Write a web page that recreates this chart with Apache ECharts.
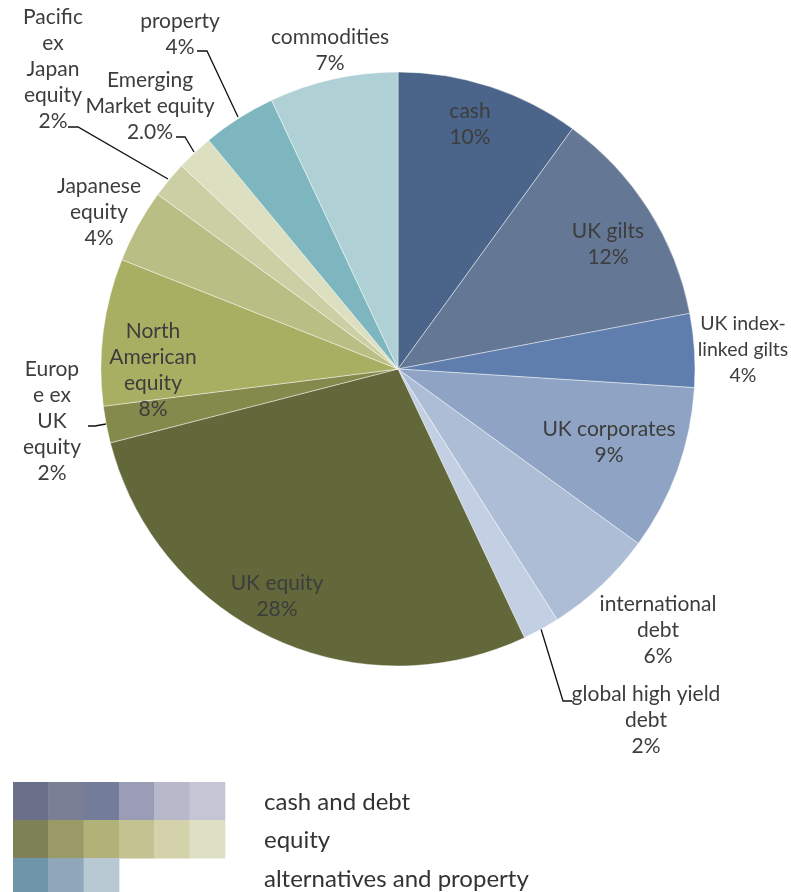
<!DOCTYPE html>
<html>
<head>
<meta charset="utf-8">
<script src="https://cdn.jsdelivr.net/npm/echarts@6/dist/echarts.min.js"></script>
<style>
  html, body { margin: 0; padding: 0; background: #fff; }
  #main { width: 791px; height: 892px; }
</style>
</head>
<body>
<div id="main"></div>
<script>
// asset classes, clockwise from 12 o'clock
var categories = ['cash', 'UK gilts', 'UK index-linked gilts', 'UK corporates', 'international debt',
    'global high yield debt', 'UK equity', 'Europe ex UK equity', 'North American equity',
    'Japanese equity', 'Pacific ex Japan equity', 'Emerging Market equity', 'property', 'commodities'];
var values = [10, 12, 4, 9, 6, 2, 28, 2, 8, 4, 2, 2, 4, 7];
// text shown on the chart (wrapped like the original)
var labelText = ['cash', 'UK gilts', 'UK index-\nlinked gilts', 'UK corporates', 'international\ndebt',
    'global high yield\ndebt', 'UK equity', 'Europ\ne ex\nUK\nequity', 'North\nAmerican\nequity',
    'Japanese\nequity', 'Pacific\nex\nJapan\nequity', 'Emerging\nMarket equity', 'property', 'commodities'];
var pctText = ['10%', '12%', '4%', '9%', '6%', '2%', '28%', '2%', '8%', '4%', '2%', '2.0%', '4%', '7%'];
var sliceColors = ['#4a6589', '#647895', '#5f7dad', '#8fa4c4', '#adbdd6', '#c3cfe3', '#62683a',
    '#838a4c', '#a8ae62', '#b9bf84', '#cbd0a4', '#dcdfc0', '#7db6be', '#afd1d5'];

// legend
var groupNames = ['cash and debt', 'equity', 'alternatives and property'];
var groupSwatches = [
    ['#6a6f8a', '#7a7f95', '#737c98', '#9a9db5', '#b8b8cb', '#c5c5d5'],
    ['#7e8055', '#9a9a66', '#b1b277', '#c3c392', '#d3d2ab', '#dfdfc6'],
    ['#6e95a8', '#8fa7b8', '#b8c9d3']
];

// label placement (block centre) and leader lines
var labelPos = [[470, 124], [608, 244], [743, 350], [609, 442], [658, 630], [646, 720], [277, 596],
    [52, 421], [153, 370], [99, 212], [53, 69], [150, 106], [180, 34], [330, 50]];
var leaderLines = [
    [[541, 629], [563, 701], [572, 701]],
    [[106, 424], [95, 426], [88, 426]],
    [[168, 179], [78, 127], [68, 127]],
    [[194, 152], [185, 137], [176, 137]],
    [[238, 117], [207, 51], [197, 51]]
];

var chart = echarts.init(document.getElementById('main'));

var pieData = categories.map(function (name, i) {
    var d = {
        name: name,
        value: values[i],
        itemStyle: { color: sliceColors[i] }
    };
    // this one sits against the right edge
    if (i === 2) d.label = { fontSize: 19.5 };
    return d;
});

var graphics = [];
var sw = 35.3, sh = 38;
groupSwatches.forEach(function (row, r) {
    row.forEach(function (c, k) {
        graphics.push({
            type: 'rect',
            shape: { x: 13 + k * sw, y: 782 + r * sh, width: sw + 0.5, height: sh + 0.5 },
            style: { fill: c }
        });
    });
    graphics.push({
        type: 'text',
        x: 264, y: 802 + r * 38.5,
        style: {
            text: groupNames[r], fill: '#333', fontSize: 24,
            fontFamily: 'Lato', verticalAlign: 'middle'
        }
    });
});
leaderLines.forEach(function (pts) {
    graphics.push({
        type: 'polyline',
        shape: { points: pts },
        style: { stroke: '#111', lineWidth: 1.3, fill: null }
    });
});

chart.setOption({
    animation: false,
    graphic: graphics,
    series: [{
        type: 'pie',
        center: [398, 369],
        radius: [0, 297],
        startAngle: 90,
        clockwise: true,
        avoidLabelOverlap: false,
        itemStyle: {
            borderColor: 'rgba(255,255,255,0.55)',
            borderWidth: 0.8
        },
        label: {
            show: true,
            position: 'inside',
            color: '#3d3d3d',
            fontFamily: 'Lato',
            fontSize: 21,
            lineHeight: 26,
            align: 'center',
            formatter: function (p) {
                return labelText[p.dataIndex] + '\n' + pctText[p.dataIndex];
            }
        },
        labelLine: { show: false },
        labelLayout: function (p) {
            var i = p.dataIndex;
            return {
                x: labelPos[i][0],
                y: labelPos[i][1],
                align: 'center',
                verticalAlign: 'middle'
            };
        },
        data: pieData
    }]
});
</script>
</body>
</html>
